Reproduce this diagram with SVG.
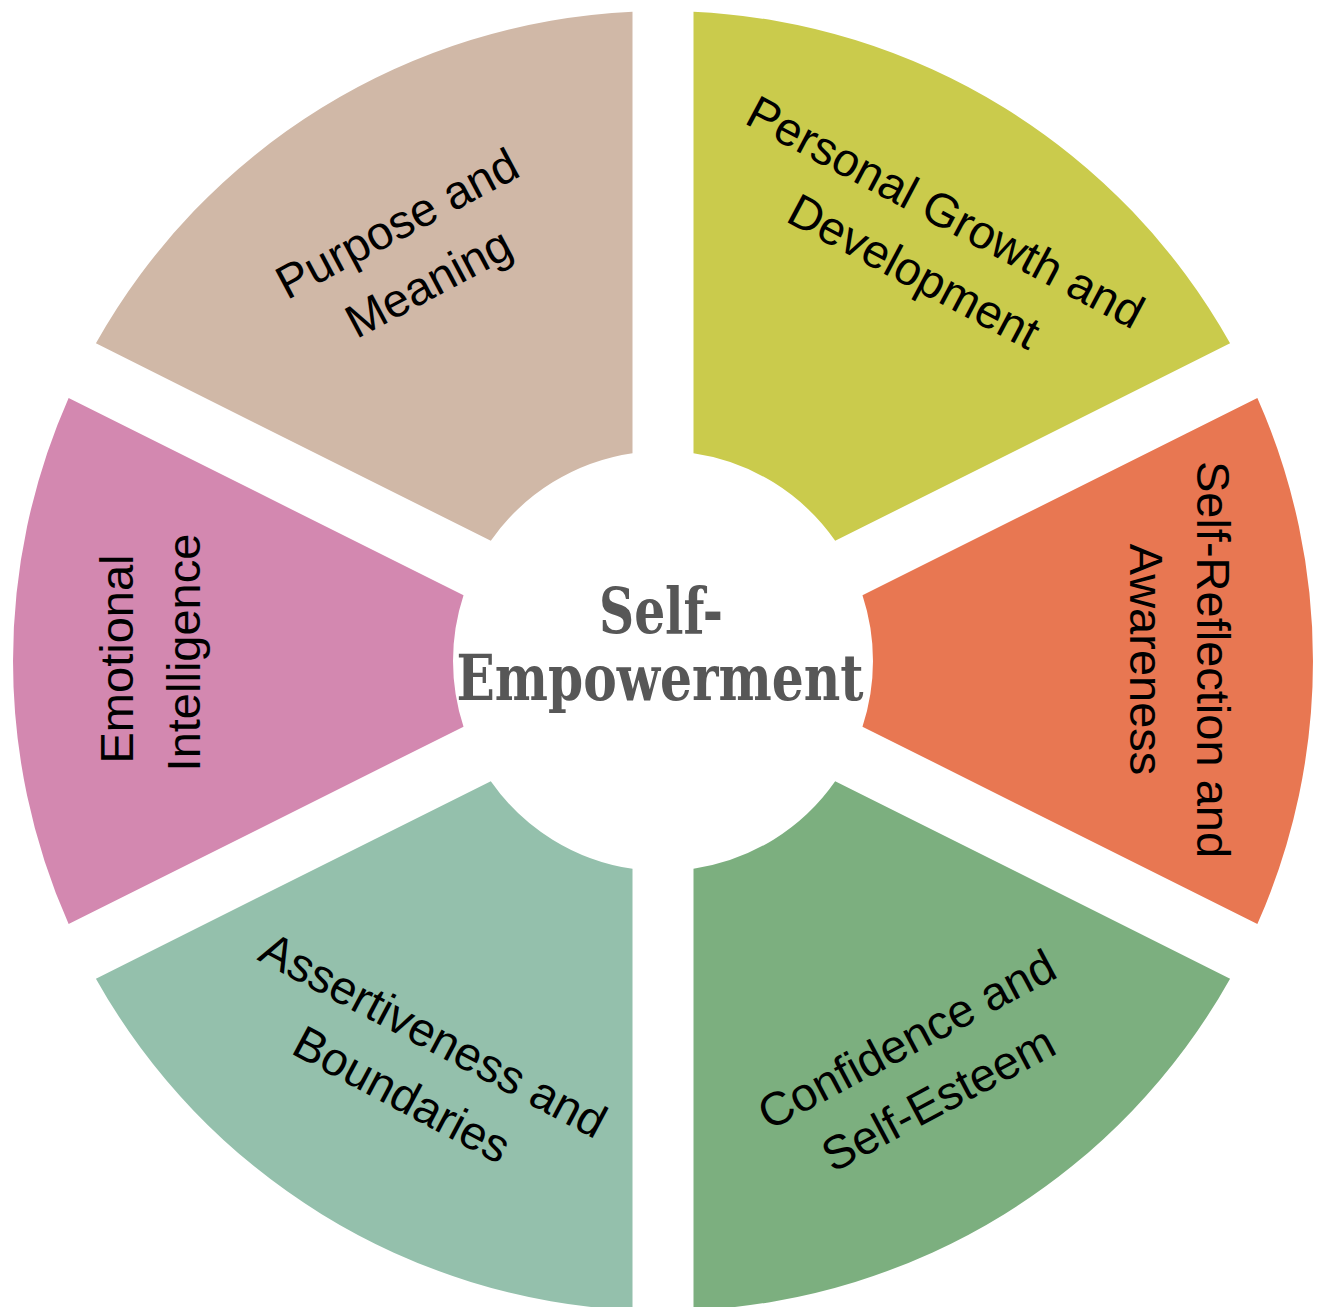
<svg xmlns="http://www.w3.org/2000/svg" width="1317" height="1307" viewBox="0 0 1317 1307">
  <style>
    .lbl { font-family: "Liberation Sans", Arial, sans-serif; font-size: 47px; fill: #000000; text-anchor: middle; }
    .ctr { font-family: "DejaVu Serif", "Liberation Serif", serif; font-weight: bold; font-size: 64px; fill: #575757; text-anchor: middle; }
  </style>
  <rect x="0" y="0" width="1317" height="1307" fill="#ffffff"/>
  <g id="connectors"/>
  <g id="node-personal-growth">
    <path d="M 693.5 11.72 A 650 650 0 0 1 1230.08 343.36 L 835.19 540.81 A 210 210 0 0 0 693.5 453.23 Z" fill="#CACB4C"/>
    <g transform="translate(928.7,243.7) rotate(28)">
      <text class="lbl" x="0" y="-19.5">Personal Growth and</text>
      <text class="lbl" x="0" y="47.5">Development</text>
    </g>
  </g>
  <g id="node-self-reflection">
    <path d="M 1257.36 397.92 A 650 650 0 0 1 1257.36 924.08 L 862.47 726.63 A 210 210 0 0 0 862.47 595.37 Z" fill="#E87752"/>
    <g transform="translate(1177.7,659.5) rotate(90)">
      <text class="lbl" x="0" y="-19.65">Self-Reflection and</text>
      <text class="lbl" x="0" y="47.65">Awareness</text>
    </g>
  </g>
  <g id="node-confidence">
    <path d="M 1230.08 978.64 A 650 650 0 0 1 693.5 1310.28 L 693.5 868.77 A 210 210 0 0 0 835.19 781.19 Z" fill="#7CAF7F"/>
    <g transform="translate(923.4,1070.9) rotate(-28)">
      <text class="lbl" x="0" y="-19.5">Confidence and</text>
      <text class="lbl" x="0" y="47.5">Self-Esteem</text>
    </g>
  </g>
  <g id="node-assertiveness">
    <path d="M 632.5 1310.28 A 650 650 0 0 1 95.92 978.64 L 490.81 781.19 A 210 210 0 0 0 632.5 868.77 Z" fill="#94C0AC"/>
    <g transform="translate(416.7,1066.7) rotate(28)">
      <text class="lbl" x="0" y="-19.5">Assertiveness and</text>
      <text class="lbl" x="0" y="47.5">Boundaries</text>
    </g>
  </g>
  <g id="node-emotional-intelligence">
    <path d="M 68.64 924.08 A 650 650 0 0 1 68.64 397.92 L 463.53 595.37 A 210 210 0 0 0 463.53 726.63 Z" fill="#D388B0"/>
    <g transform="translate(152.7,656) rotate(-90)">
      <text class="lbl" x="-3" y="-19.65">Emotional</text>
      <text class="lbl" x="3.5" y="47.65">Intelligence</text>
    </g>
  </g>
  <g id="node-purpose">
    <path d="M 95.92 343.36 A 650 650 0 0 1 632.5 11.72 L 632.5 453.23 A 210 210 0 0 0 490.81 540.81 Z" fill="#D0B8A7"/>
    <g transform="translate(413.7,255) rotate(-28)">
      <text class="lbl" x="0" y="-19.5">Purpose and</text>
      <text class="lbl" x="0" y="47.5">Meaning</text>
    </g>
  </g>
  <g id="node-center">
    <text class="ctr" x="661" y="633.3" textLength="124" lengthAdjust="spacingAndGlyphs">Self-</text>
    <text class="ctr" x="660" y="700" textLength="407" lengthAdjust="spacingAndGlyphs">Empowerment</text>
  </g>
</svg>
